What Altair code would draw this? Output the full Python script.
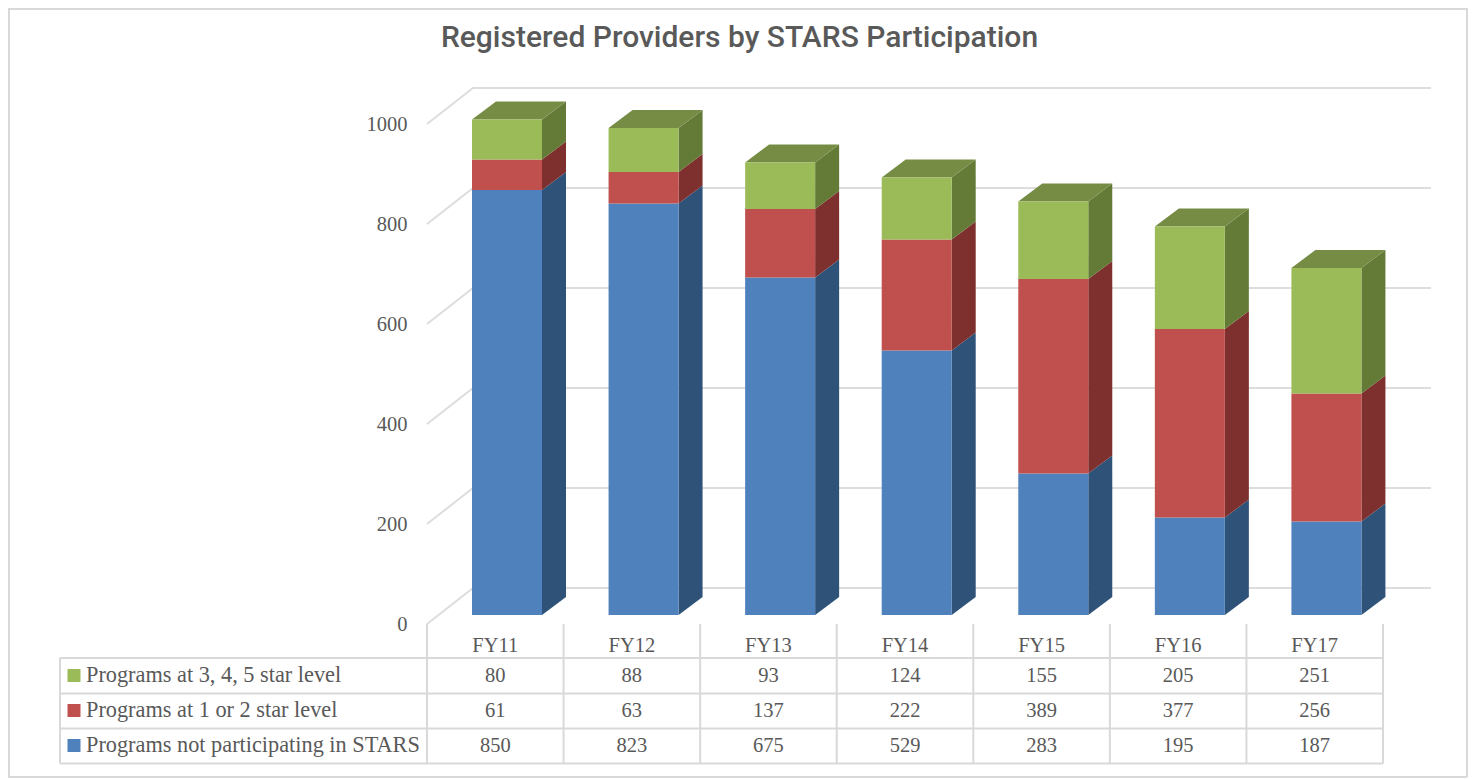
import altair as alt
import pandas as pd

years = ["FY11", "FY12", "FY13", "FY14", "FY15", "FY16", "FY17"]
not_participating = [850, 823, 675, 529, 283, 195, 187]
one_two_star = [61, 63, 137, 222, 389, 377, 256]
three_plus_star = [80, 88, 93, 124, 155, 205, 251]
series_names = ["Programs not participating in STARS", "Programs at 1 or 2 star level", "Programs at 3, 4, 5 star level"]
series_values = [not_participating, one_two_star, three_plus_star]
y_ticks = [0, 200, 400, 600, 800, 1000]
title_text = "Registered Providers by STARS Participation"

front_colors = ["#4F81BD", "#C0504D", "#9BBB59"]
side_colors = ["#2F5279", "#7D302E", "#647A37"]
top_color = "#768C45"
grid_color = "#DDDDDD"
table_color = "#D9D9D9"
text_color = "#595959"
SERIF = "Liberation Serif"
TS = 20.5
NAME_TS = 22.3

# page geometry (browser window px) -> data units
W, H, MARGIN = 1460, 771, 8
CAT_PX, CAT0_PX = 136.57, 495.3
ZERO_PX, PX_PER_UNIT = 615.0, 0.5


def xu(px):
    return (px - CAT0_PX) / CAT_PX


def yu(py):
    return (ZERO_PX - py) / PX_PER_UNIT


x_scale = alt.Scale(domain=[xu(MARGIN), xu(MARGIN + W)], range=[0, W], nice=False, zero=False)
y_scale = alt.Scale(domain=[yu(MARGIN + H), yu(MARGIN)], range=[H, 0], nice=False, zero=False)
y_axis = alt.Axis(
    values=y_ticks, orient="left", title=None, domain=False, ticks=False, grid=False, format="d",
    offset=-(407 - MARGIN), labelPadding=0, labelFontSize=TS, labelFont=SERIF,
    labelColor=text_color, labelOffset=9.5)
X = alt.X("x:Q", scale=x_scale, axis=None)
Y = alt.Y("y:Q", scale=y_scale, axis=y_axis)

half = 35 / CAT_PX
bar_shift = 11.7 / CAT_PX
dx = 24 / CAT_PX
dy = 18 / PX_PER_UNIT

front, side, top = [], [], []
for c, yr in enumerate(years):
    base = 0
    for s, name in enumerate(series_names):
        v = series_values[s][c]
        x0, x1 = c + bar_shift - half, c + bar_shift + half
        front.append(dict(x=x0, x2=x1, y=base, y2=base + v, col=front_colors[s]))
        key = f"{yr}-{s}"
        side.append(dict(x=x1, y=base, y2=base + v, k=key, col=side_colors[s]))
        side.append(dict(x=x1 + dx, y=base + dy, y2=base + v + dy, k=key, col=side_colors[s]))
        base += v
    top += [dict(x=x0, y=base, y2=base, k=yr), dict(x=x0 + dx, y=base, y2=base + dy, k=yr),
            dict(x=x1, y=base, y2=base + dy, k=yr), dict(x=x1 + dx, y=base + dy, y2=base + dy, k=yr)]

# back wall gridlines with their slanted run to the front-left edge
wall_dx = 46 / CAT_PX
wall_left = xu(427)
wall_right = xu(1431)
front_drop = 9 / PX_PER_UNIT
wall_rise = 27 / PX_PER_UNIT
grid = []
for t in y_ticks:
    grid += [dict(x=wall_left, y=t - front_drop, k=t),
             dict(x=wall_left + wall_dx, y=t + wall_rise, k=t),
             dict(x=wall_right, y=t + wall_rise, k=t)]

grid_layer = alt.Chart(pd.DataFrame(grid)).mark_line(color=grid_color, strokeWidth=2).encode(
    x=X, y=Y, detail="k:N", order="x:Q")

side_layer = alt.Chart(pd.DataFrame(side)).mark_area(opacity=1).encode(
    x=X, y=Y, y2="y2:Q", detail="k:N", color=alt.Color("col:N", scale=None))
top_layer = alt.Chart(pd.DataFrame(top)).mark_area(color=top_color, opacity=1).encode(
    x=X, y=Y, y2="y2:Q", detail="k:N")
front_layer = alt.Chart(pd.DataFrame(front)).mark_rect().encode(
    x=X, x2="x2:Q", y=Y, y2="y2:Q", color=alt.Color("col:N", scale=None))

# data table
row_lines_py = [658, 693.5, 728.5, 763.5]
table_left = xu(60)
table_right = len(years) - 0.5
rows_h = [dict(x=table_left, x2=table_right, y=yu(p)) for p in row_lines_py]
rows_v = [dict(x=i - 0.5, y=yu(624), y2=yu(763.5)) for i in range(len(years) + 1)]
rows_v.append(dict(x=table_left, y=yu(658), y2=yu(763.5)))

h_layer = alt.Chart(pd.DataFrame(rows_h)).mark_rule(color=table_color, strokeWidth=2).encode(x=X, x2="x2:Q", y=Y)
v_layer = alt.Chart(pd.DataFrame(rows_v)).mark_rule(color=table_color, strokeWidth=2).encode(x=X, y=Y, y2="y2:Q")

row_py = [745.5, 710.5, 675.5]  # series order bottom to top
cells = [dict(x=c, y=yu(645.5), t=yr) for c, yr in enumerate(years)]
for s, vals in enumerate(series_values):
    cells += [dict(x=c, y=yu(row_py[s]), t=str(v)) for c, v in enumerate(vals)]
cell_layer = alt.Chart(pd.DataFrame(cells)).mark_text(
    font=SERIF, fontSize=TS, color=text_color, align="center", baseline="middle").encode(x=X, y=Y, text="t:N")

names = [dict(x=xu(86), y=yu(row_py[s] - 0.5), t=series_names[s]) for s in range(3)]
name_layer = alt.Chart(pd.DataFrame(names)).mark_text(
    font=SERIF, fontSize=NAME_TS, color=text_color, align="left", baseline="middle").encode(x=X, y=Y, text="t:N")

keys = [dict(x=xu(74), y=yu(row_py[s]), col=front_colors[s]) for s in range(3)]
key_layer = alt.Chart(pd.DataFrame(keys)).mark_point(shape="square", filled=True, size=169, opacity=1).encode(
    x=X, y=Y, color=alt.Color("col:N", scale=None))

title_layer = alt.Chart(pd.DataFrame([dict(x=xu(739.5), y=yu(38), t=title_text)])).mark_text(
    font="Roboto", fontSize=30, fontWeight=500, color=text_color, align="center", baseline="middle"
).encode(x=X, y=Y, text="t:N")

# outer chart frame
right_px = MARGIN + W - 1
frame = [dict(x=xu(MARGIN), x2=xu(right_px), y=yu(MARGIN + 1), y2=yu(MARGIN + 1)),
         dict(x=xu(MARGIN), x2=xu(right_px), y=yu(777), y2=yu(777)),
         dict(x=xu(MARGIN + 1), x2=xu(MARGIN + 1), y=yu(MARGIN), y2=yu(777)),
         dict(x=xu(right_px), x2=xu(right_px), y=yu(MARGIN), y2=yu(777))]
frame_layer = alt.Chart(pd.DataFrame(frame)).mark_rule(color=table_color, strokeWidth=2).encode(
    x=X, x2="x2:Q", y=Y, y2="y2:Q")

chart = alt.layer(
    frame_layer, grid_layer, h_layer, v_layer, side_layer, top_layer, front_layer,
    cell_layer, name_layer, key_layer, title_layer
).resolve_scale(color="independent").properties(
    width=W, height=H, padding=0, autosize=alt.AutoSizeParams(type="none"), background="white"
).configure_view(stroke=None)

chart.save("out.html", embed_options={"renderer": "svg", "actions": False})
